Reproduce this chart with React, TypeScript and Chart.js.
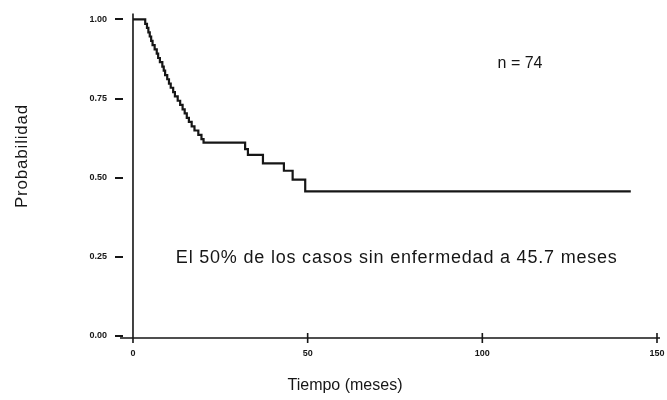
import { useEffect, useRef } from 'react';
import { Chart, registerables } from 'chart.js';

Chart.register(...registerables);

// ---- Data ----
const eventTimes = [
  3.5, 4.0, 4.4, 4.8, 5.2, 5.6, 6.2, 6.8, 7.2, 7.7, 8.4, 8.8, 9.2, 9.8, 10.3,
  10.8, 11.5, 12.0, 12.8, 13.5, 14.2, 14.8, 15.4, 16.0, 16.8, 17.6, 18.7, 19.6,
  20.2, 32.1, 32.9, 37.2, 43.2, 45.7, 49.3,
];
const survivalValues = [
  0.986, 0.973, 0.959, 0.946, 0.932, 0.919, 0.905, 0.892, 0.878, 0.865, 0.851,
  0.838, 0.824, 0.811, 0.797, 0.784, 0.77, 0.757, 0.743, 0.73, 0.716, 0.703,
  0.689, 0.676, 0.662, 0.649, 0.635, 0.622, 0.611, 0.59, 0.572, 0.545, 0.522,
  0.494, 0.457,
];
const startSurvival = 1.0;
const followUpEnd = 142.5;

const xTickValues = [0, 50, 100, 150];
const yTickValues = [0, 0.25, 0.5, 0.75, 1.0];

const xTitle = 'Tiempo (meses)';
const yTitle = 'Probabilidad';
const sampleLabel = 'n = 74';
const medianNote = 'El 50% de los casos sin enfermedad a 45.7 meses';

// annotation anchors in data units
const sampleAnchor = { x: 110.8, y: 0.845 };
const noteAnchor = { x: 75.5, y: 0.23 };

const INK = '#161616';
const FONT = '"Liberation Sans", Arial, sans-serif';

const overlayPlugin = {
  id: 'kmOverlay',
  afterDraw(chart: any) {
    const { ctx, chartArea } = chart;
    const xs = chart.scales.x;
    const ys = chart.scales.y;
    const x0 = xs.getPixelForValue(0);
    ctx.save();
    ctx.strokeStyle = INK;
    ctx.lineWidth = 1.6;
    ctx.beginPath();
    ctx.moveTo(x0, chartArea.top);
    ctx.lineTo(x0, chartArea.bottom);
    ctx.moveTo(chartArea.left - 3, chartArea.bottom);
    ctx.lineTo(chartArea.right, chartArea.bottom);
    xTickValues.forEach((v) => {
      const px = xs.getPixelForValue(v);
      ctx.moveTo(px, chartArea.bottom - 5);
      ctx.lineTo(px, chartArea.bottom + 5);
    });
    ctx.stroke();

    ctx.fillStyle = INK;
    ctx.textBaseline = 'alphabetic';
    ctx.textAlign = 'center';

    ctx.font = `16px ${FONT}`;
    ctx.fillText(sampleLabel, xs.getPixelForValue(sampleAnchor.x), ys.getPixelForValue(sampleAnchor.y));

    ctx.font = `18px ${FONT}`;
    (ctx as any).letterSpacing = '0.8px';
    ctx.fillText(medianNote, xs.getPixelForValue(noteAnchor.x), ys.getPixelForValue(noteAnchor.y));
    (ctx as any).letterSpacing = '0px';

    ctx.font = `16px ${FONT}`;
    ctx.fillText(xTitle, 345, 390);

    ctx.translate(27, 156);
    ctx.rotate(-Math.PI / 2);
    ctx.font = `17px ${FONT}`;
    (ctx as any).letterSpacing = '0.8px';
    ctx.fillText(yTitle, 0, 0);
    (ctx as any).letterSpacing = '0px';
    ctx.restore();
  },
};

export default function App() {
  const canvasRef = useRef<HTMLCanvasElement | null>(null);

  useEffect(() => {
    const canvas = canvasRef.current;
    if (!canvas) return;
    const points = [
      { x: 0, y: startSurvival },
      ...eventTimes.map((t, i) => ({ x: t, y: survivalValues[i] })),
      { x: followUpEnd, y: survivalValues[survivalValues.length - 1] },
    ];
    const chart = new Chart(canvas, {
      type: 'line',
      data: {
        datasets: [
          {
            data: points,
            stepped: 'before',
            borderColor: INK,
            borderWidth: 2.2,
            pointRadius: 0,
            fill: false,
          },
        ],
      },
      options: {
        responsive: false,
        animation: false,
        layout: { padding: { top: 12, right: 7, left: 0, bottom: 0 } },
        plugins: { legend: { display: false }, tooltip: { enabled: false } },
        scales: {
          x: {
            type: 'linear',
            min: -2.86,
            max: 150.86,
            afterBuildTicks: (s: any) => {
              s.ticks = xTickValues.map((v) => ({ value: v }));
            },
            afterFit: (s: any) => {
              s.height = 62;
            },
            grid: { display: false },
            border: { display: false },
            ticks: {
              color: INK,
              padding: 2,
              maxRotation: 0,
              autoSkip: false,
              font: { family: FONT, size: 9, weight: 'bold' },
              callback: (v: any) => String(v),
            },
          },
          y: {
            type: 'linear',
            min: -0.0063,
            max: 1.0189,
            afterBuildTicks: (s: any) => {
              s.ticks = yTickValues.map((v) => ({ value: v }));
            },
            afterFit: (s: any) => {
              s.width = 123;
            },
            grid: {
              drawOnChartArea: false,
              drawTicks: true,
              tickLength: 8,
              color: INK,
              lineWidth: 2,
            },
            border: { display: false },
            ticks: {
              color: INK,
              padding: 8,
              autoSkip: false,
              font: { family: FONT, size: 9, weight: 'bold' },
              callback: (v: any) => Number(v).toFixed(2),
            },
          },
        },
      },
      plugins: [overlayPlugin],
    });
    return () => chart.destroy();
  }, []);

  return (
    <div style={{ position: 'fixed', left: 0, top: 0, width: 667, height: 400, background: '#fff' }}>
      <canvas ref={canvasRef} width={667} height={400} style={{ display: 'block' }} />
    </div>
  );
}
